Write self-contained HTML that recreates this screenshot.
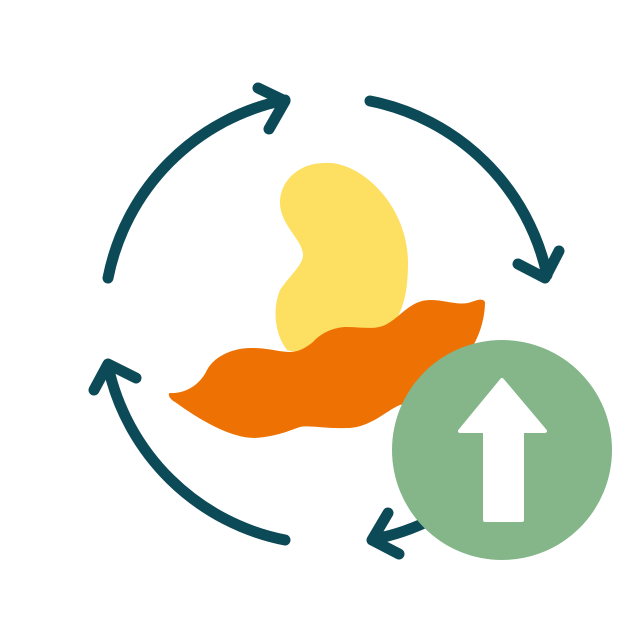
<!DOCTYPE html>
<html><head><style>html,body{margin:0;padding:0;background:#fff}svg{display:block}</style></head>
<body>
<svg width="643" height="643" viewBox="0 0 643 643" xmlns="http://www.w3.org/2000/svg">
<g fill="none" stroke="#0d4a57" stroke-width="11" stroke-linecap="round" stroke-linejoin="round">
<path d="M108,278 A226,226 0 0 1 285,100"/>
<path d="M258,88 L285,101 L269,129"/>
<path d="M370,101 A226,226 0 0 1 547,275"/>
<path d="M518,264 L545,278 L559,251"/>
<path d="M108,366 A226,226 0 0 0 285,540"/>
<path d="M94,390 L108,364 L136,378"/>
<path d="M375,539 A226,226 0 0 0 440,515"/>
<path d="M388,513 L372,540 L399,554"/>
</g>
<path fill="#fddf62" d="M324,163 C360,160 408,205 408,263 C408,300 400,330 370,340 C340,350 300,355 287,350 C275,335 272,310 280,290 C290,275 303,265 303,255 C303,240 280,225 280,203 C280,180 300,163 324,163 Z"/>
<path fill="#ed7203" d="M170,393 C185,394 200,385 207,370 C215,355 235,348 250,348 C270,348 278,352 290,352 C300,352 308,346 313,342 C322,332 335,327 347,327 C360,327 375,330 385,325 C400,318 410,300 430,300 C445,300 455,305 468,303 C475,301 482,297 485,302 C485,320 478,340 470,350 C460,370 440,395 400,405 C387,410 370,428 347,428 C325,429 310,425 300,427 C290,430 280,436 255,438 C230,438 200,420 175,402 C168,398 168,393 170,393 Z"/>
<circle cx="502" cy="450" r="110" fill="#84b68a"/>
<path fill="#fff" stroke="#fff" stroke-width="4" stroke-linejoin="round" d="M502,380 L545,431 L522,431 L522,520 L485,520 L485,431 L460,431 Z"/>
</svg>
</body></html>
